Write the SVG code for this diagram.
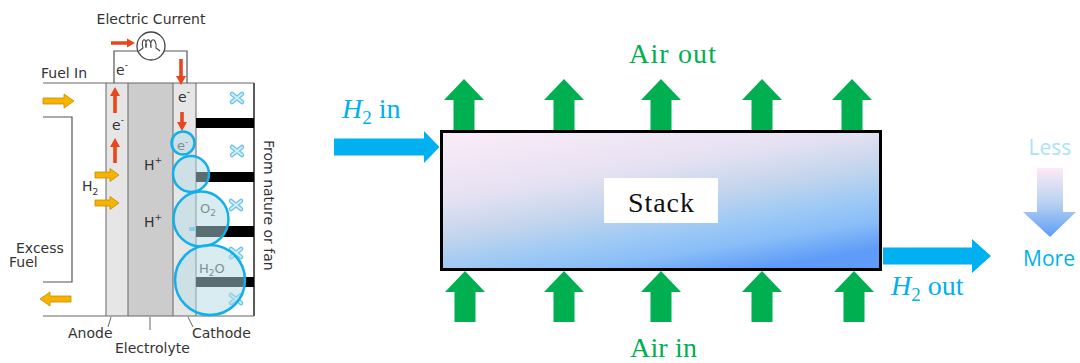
<svg xmlns="http://www.w3.org/2000/svg" width="1080" height="363" viewBox="0 0 1080 363">
  <defs>
    <linearGradient id="stackFill" gradientUnits="userSpaceOnUse" x1="600" y1="110" x2="630" y2="290">
      <stop offset="0" stop-color="#fbebf8"/>
      <stop offset="0.35" stop-color="#e5e1f2"/>
      <stop offset="0.55" stop-color="#c3d5ec"/>
      <stop offset="0.72" stop-color="#9ec9f5"/>
      <stop offset="0.85" stop-color="#88bdf7"/>
      <stop offset="1" stop-color="#5e9cf7"/>
    </linearGradient>
    <linearGradient id="scaleFill" x1="0" y1="0" x2="0" y2="1">
      <stop offset="0" stop-color="#fde9f6"/>
      <stop offset="0.5" stop-color="#b9d3f0"/>
      <stop offset="1" stop-color="#5c9cf8"/>
    </linearGradient>
    <!-- block arrow pointing up, tip at the origin -->
    <path id="upArrow" d="M0,0 L20,21 L10.5,21 L10.5,51 L-10.5,51 L-10.5,21 L-20,21 Z"/>
    <!-- small fan mark -->
    <g id="fan">
      <path class="xm" d="M-5,-4 L5,4 M-5,4 L5,-4"/>
      <path class="xm2" d="M-5,-4 L5,4 M-5,4 L5,-4"/>
    </g>
  </defs>
  <style>
    .lbl{font-family:"DejaVu Sans",sans-serif;font-size:14px;fill:#333}
    .sup{font-size:9px}
    .wire{fill:none;stroke:#555;stroke-width:1.2}
    .edge{stroke:#666;stroke-width:1}
    .red{fill:#e8461c}
    .yel{fill:#f6b400;stroke:#c58b00;stroke-width:0.8}
    .bar{fill:#000}
    .xm{fill:none;stroke:#6cc3e6;stroke-width:4.5;stroke-linecap:round}
    .xm2{fill:none;stroke:#cdeefa;stroke-width:2;stroke-linecap:round}
    .lens{fill:#b2dae4;fill-opacity:0.5;stroke:#12b0ea;stroke-width:2.5}
    .lensTxt{font-family:"DejaVu Sans",sans-serif;font-size:13px;fill:#7f8f90}
    .ser{font-family:"Liberation Serif",serif;font-size:28px}
    .air{fill:#00b050}
    .h2{fill:#00b0f0}
    .legend{font-family:"Open Sans",sans-serif;font-size:21px}
  </style>

  <!-- fuel cell cross-section -->
  <g id="fuel-cell">
    <rect x="106" y="83" width="22" height="233" fill="#e6e6e6"/>
    <rect x="128" y="83" width="45" height="233" fill="#cccccc"/>
    <rect x="173" y="83" width="23" height="233" fill="#e6e6e6"/>
    <line class="edge" x1="106" y1="83" x2="106" y2="316"/>
    <line class="edge" x1="128" y1="83" x2="128" y2="316"/>
    <line class="edge" x1="173" y1="83" x2="173" y2="316"/>
    <line class="edge" x1="196" y1="83" x2="196" y2="316"/>
    <line x1="254" y1="83" x2="254" y2="316" stroke="#222" stroke-width="1.5"/>
    <line class="edge" x1="43" y1="83" x2="254" y2="83"/>
    <line class="edge" x1="43" y1="316" x2="254" y2="316"/>
    <path class="wire" d="M43,117 H72 V282 H43"/>

    <!-- external circuit with lamp -->
    <path class="wire" d="M114,83 V51 H187 V83"/>
    <circle cx="151" cy="46" r="14" fill="#fff" stroke="#444" stroke-width="1.3"/>
    <path fill="none" stroke="#444" stroke-width="1.1" d="M139,51 L143,48 C140,37 148,37 146,48 C144,37 152,37 151,48 C149,37 157,37 156,48 L160,51"/>

    <!-- cathode-side air channels -->
    <rect class="bar" x="196" y="118" width="58" height="10"/>
    <rect class="bar" x="196" y="172" width="58" height="10"/>
    <rect class="bar" x="196" y="226" width="58" height="11"/>
    <rect class="bar" x="196" y="277" width="58" height="10"/>
    <use href="#fan" x="237" y="98"/>
    <use href="#fan" x="237" y="151"/>
    <use href="#fan" x="236" y="205"/>
    <use href="#fan" x="236" y="253"/>
    <use href="#fan" x="236" y="299"/>

    <!-- electron flow -->
    <polygon class="red" points="135,43 127,38.5 127,41.3 111,41.3 111,44.7 127,44.7 127,47.5"/>
    <polygon class="red" points="115,87 110,96 113.2,96 113.2,113 116.8,113 116.8,96 120,96"/>
    <polygon class="red" points="115,138 110,147 113.2,147 113.2,163 116.8,163 116.8,147 120,147"/>
    <polygon class="red" points="181,85 176,76 179.2,76 179.2,59 182.8,59 182.8,76 186,76"/>
    <polygon class="red" points="182,131 177,122 180.2,122 180.2,112 183.8,112 183.8,122 187,122"/>

    <!-- hydrogen flow -->
    <polygon class="yel" points="74,101 64,94 64,98 43,98 43,104 64,104 64,108"/>
    <polygon class="yel" points="119,175 110,168.5 110,172 95,172 95,178 110,178 110,181.5"/>
    <polygon class="yel" points="119,203 110,196.5 110,200 95,200 95,206 110,206 110,209.5"/>
    <polygon class="yel" points="40,299 50,292 50,296 71,296 71,302 50,302 50,306"/>

    <!-- magnified details -->
    <circle class="lens" cx="183" cy="143" r="11.5"/>
    <text class="lensTxt" x="177" y="150" font-size="11">e<tspan class="sup" dy="-5">-</tspan></text>
    <circle class="lens" cx="191" cy="174" r="18"/>
    <rect x="189" y="227" width="7" height="4" fill="#5bc6ee"/>
    <circle class="lens" cx="201" cy="219" r="27.5"/>
    <text class="lensTxt" x="200" y="213">O<tspan font-size="9" dy="3">2</tspan></text>
    <circle class="lens" cx="210" cy="280" r="35"/>
    <text class="lensTxt" x="199" y="273">H<tspan font-size="9" dy="3">2</tspan><tspan dy="-3">O</tspan></text>

    <!-- labels -->
    <text class="lbl" x="151" y="24" text-anchor="middle">Electric Current</text>
    <text class="lbl" x="41" y="78">Fuel In</text>
    <text class="lbl" x="116" y="75">e<tspan class="sup" dy="-7">-</tspan></text>
    <text class="lbl" x="178" y="102">e<tspan class="sup" dy="-7">-</tspan></text>
    <text class="lbl" x="112" y="130">e<tspan class="sup" dy="-7">-</tspan></text>
    <text class="lbl" x="144" y="170">H<tspan class="sup" dy="-7">+</tspan></text>
    <text class="lbl" x="144" y="227">H<tspan class="sup" dy="-7">+</tspan></text>
    <text class="lbl" x="82" y="191">H<tspan class="sup" dy="4">2</tspan></text>
    <text class="lbl" x="16" y="253">Excess</text>
    <text class="lbl" x="9" y="267">Fuel</text>
    <line class="edge" x1="111" y1="317" x2="108" y2="327"/>
    <line class="edge" x1="150" y1="317" x2="150" y2="330"/>
    <line class="edge" x1="188" y1="317" x2="193" y2="327"/>
    <text class="lbl" x="68" y="338">Anode</text>
    <text class="lbl" x="115" y="353">Electrolyte</text>
    <text class="lbl" x="192" y="338">Cathode</text>
    <text class="lbl" transform="translate(264,140) rotate(90)">From nature or fan</text>
  </g>

  <!-- stack -->
  <g id="stack">
    <rect x="441.5" y="131.5" width="439" height="138" fill="url(#stackFill)" stroke="#000" stroke-width="3"/>
    <rect x="604" y="178" width="114" height="45" fill="#fff"/>
    <text class="ser" x="628" y="212" fill="#111" textLength="66" lengthAdjust="spacing">Stack</text>
  </g>

  <!-- flows into and out of the stack -->
  <g id="connectors">
    <g class="air">
      <use href="#upArrow" x="464" y="79"/>
      <use href="#upArrow" x="564" y="79"/>
      <use href="#upArrow" x="661" y="79"/>
      <use href="#upArrow" x="762" y="79"/>
      <use href="#upArrow" x="852" y="79"/>
      <use href="#upArrow" x="465" y="271"/>
      <use href="#upArrow" x="564" y="271"/>
      <use href="#upArrow" x="661" y="271"/>
      <use href="#upArrow" x="762" y="271"/>
      <use href="#upArrow" x="854" y="271"/>
    </g>
    <polygon class="h2" points="334,138.5 424,138.5 424,131 439.5,147 424,163 424,155.5 334,155.5"/>
    <polygon class="h2" points="883,247.5 972,247.5 972,239 991,256 972,273 972,264.5 883,264.5"/>
  </g>

  <!-- flow labels -->
  <g id="labels">
    <text class="ser air" x="629" y="63" textLength="87" lengthAdjust="spacing">Air out</text>
    <text class="ser air" x="630" y="357" textLength="67" lengthAdjust="spacing">Air in</text>
    <text class="ser h2" x="342" y="118"><tspan font-style="italic">H</tspan><tspan font-size="19" dy="6">2</tspan><tspan dy="-6"> in</tspan></text>
    <text class="ser h2" x="891" y="295"><tspan font-style="italic">H</tspan><tspan font-size="19" dy="6">2</tspan><tspan dy="-6"> out</tspan></text>
  </g>

  <!-- concentration scale -->
  <g id="scale">
    <text class="legend" x="1050" y="155" text-anchor="middle" fill="#a8e3f8">Less</text>
    <polygon points="1037,168 1063,168 1063,212 1076,212 1050,237 1023,212 1037,212" fill="url(#scaleFill)"/>
    <text class="legend" x="1049" y="266" text-anchor="middle" fill="#00b0f0">More</text>
  </g>
</svg>
